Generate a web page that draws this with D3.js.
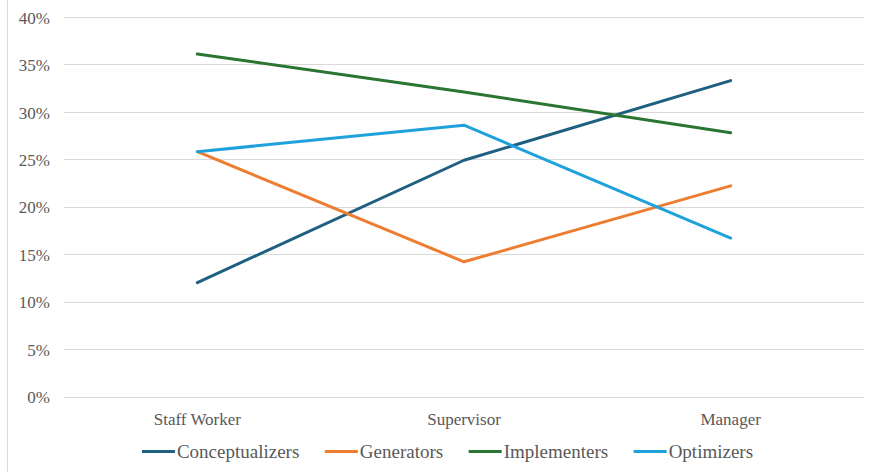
<!DOCTYPE html>
<html>
<head>
<meta charset="utf-8">
<script src="https://cdn.jsdelivr.net/npm/d3@7"></script>
<style>
  html, body { margin: 0; padding: 0; background: #fff; }
  svg { display: block; }
</style>
</head>
<body>
<svg id="chart" width="870" height="474"></svg>
<script>
const categories = ["Staff Worker", "Supervisor", "Manager"];
const seriesNames = ["Conceptualizers", "Generators", "Implementers", "Optimizers"];
const conceptualizers = [0.120, 0.249, 0.333];
const generators = [0.258, 0.142, 0.222];
const implementers = [0.361, 0.321, 0.278];
const optimizers = [0.258, 0.286, 0.167];
const yTicks = [0, 0.05, 0.10, 0.15, 0.20, 0.25, 0.30, 0.35, 0.40];
const colors = ["#1F5F80", "#ED7D31", "#2B7533", "#1FA2DC"];

const seriesValues = [conceptualizers, generators, implementers, optimizers];
const FONT = "'Liberation Serif', 'Times New Roman', Tinos, 'DejaVu Serif', serif";

const svg = d3.select("#chart");

// chart border (left edge)
svg.append("line")
  .attr("x1", 7.5).attr("x2", 7.5).attr("y1", 0).attr("y2", 472)
  .attr("stroke", "#d9d9d9").attr("stroke-width", 1);

const x = d3.scaleBand().domain(categories).range([64, 864]);
const y = d3.scaleLinear().domain([0, 0.4]).range([396.5, 17]);

// gridlines
svg.append("g").selectAll("line").data(yTicks).join("line")
  .attr("x1", 64).attr("x2", 864)
  .attr("y1", d => Math.round(y(d)) + 0.5).attr("y2", d => Math.round(y(d)) + 0.5)
  .attr("stroke", "#d9d9d9").attr("stroke-width", 1);

// y axis labels
const yAxis = d3.axisLeft(y).tickValues(yTicks).tickFormat(d3.format(".0%")).tickSize(0).tickPadding(0);
const yg = svg.append("g").attr("transform", "translate(50,0)").call(yAxis);
yg.select(".domain").remove();
yg.attr("font-family", null).attr("font-size", null);
yg.selectAll("text").style("font-size", "17px").style("font-family", FONT).style("fill", "#595959").attr("dy", "0.36em");

// x axis labels
const xAxis = d3.axisBottom(x).tickSize(0).tickPadding(0);
const xg = svg.append("g").attr("transform", "translate(0,411)").call(xAxis);
xg.select(".domain").remove();
xg.attr("font-family", null).attr("font-size", null);
xg.selectAll("text").style("font-size", "17px").style("font-family", FONT).style("fill", "#595959").attr("dy", "0.8em");

// lines
const line = d3.line()
  .x((d, i) => x(categories[i]) + x.bandwidth() / 2)
  .y(d => y(d));

svg.append("g").selectAll("path").data(seriesValues).join("path")
  .attr("d", d => line(d))
  .attr("fill", "none")
  .attr("stroke", (d, i) => colors[i])
  .attr("stroke-width", 3)
  .attr("stroke-linecap", "round")
  .attr("stroke-linejoin", "round");

// legend
const legend = svg.append("g");
const items = legend.selectAll("g").data(seriesNames).join("g");
items.append("line")
  .attr("x1", 0).attr("x2", 33).attr("y1", 0).attr("y2", 0)
  .attr("stroke", (d, i) => colors[i]).attr("stroke-width", 3);
items.append("text")
  .attr("x", 35).attr("y", 0).attr("dy", "0.36em")
  .style("font-size", "19px").style("font-family", FONT).style("fill", "#595959")
  .text(d => d);

const gap = 25.5;
let widths = [];
items.each(function() { widths.push(35 + this.querySelector("text").getComputedTextLength()); });
const total = d3.sum(widths) + gap * (widths.length - 1);
let cx = 447.5 - total / 2;
items.attr("transform", (d, i) => {
  const t = `translate(${cx},451.5)`;
  cx += widths[i] + gap;
  return t;
});
</script>
</body>
</html>
